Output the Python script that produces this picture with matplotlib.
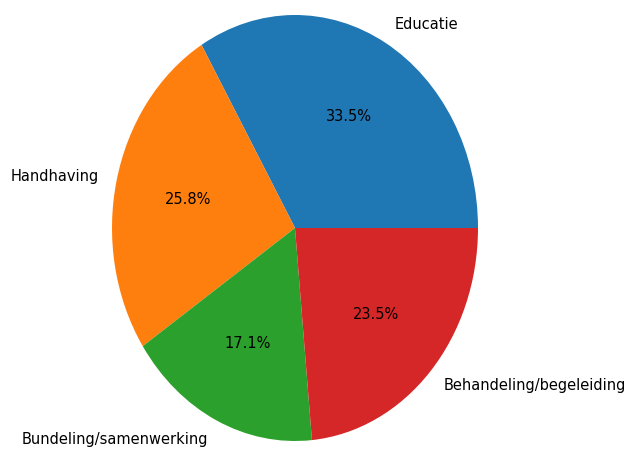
import matplotlib
matplotlib.use("Agg")
import matplotlib.pyplot as plt

# aandeel per categorie
categories = ["Educatie", "Handhaving", "Bundeling/samenwerking", "Behandeling/begeleiding"]
shares = [33.5, 25.8, 17.1, 23.5]

fig = plt.figure(figsize=(6.31, 4.49), dpi=100)
# pie in een uitgerekte as, daardoor ellipsvormig
ax = fig.add_axes([112 / 631, 8 / 449, 366 / 631, 426 / 449])
ax.pie(shares, labels=categories, autopct="%1.1f%%",
       textprops={"fontsize": 10.5})
ax.set_aspect("auto")
ax.set_xlim(-1, 1)
ax.set_ylim(-1, 1)
ax.axis("off")

fig.savefig("out.png", dpi=100)
